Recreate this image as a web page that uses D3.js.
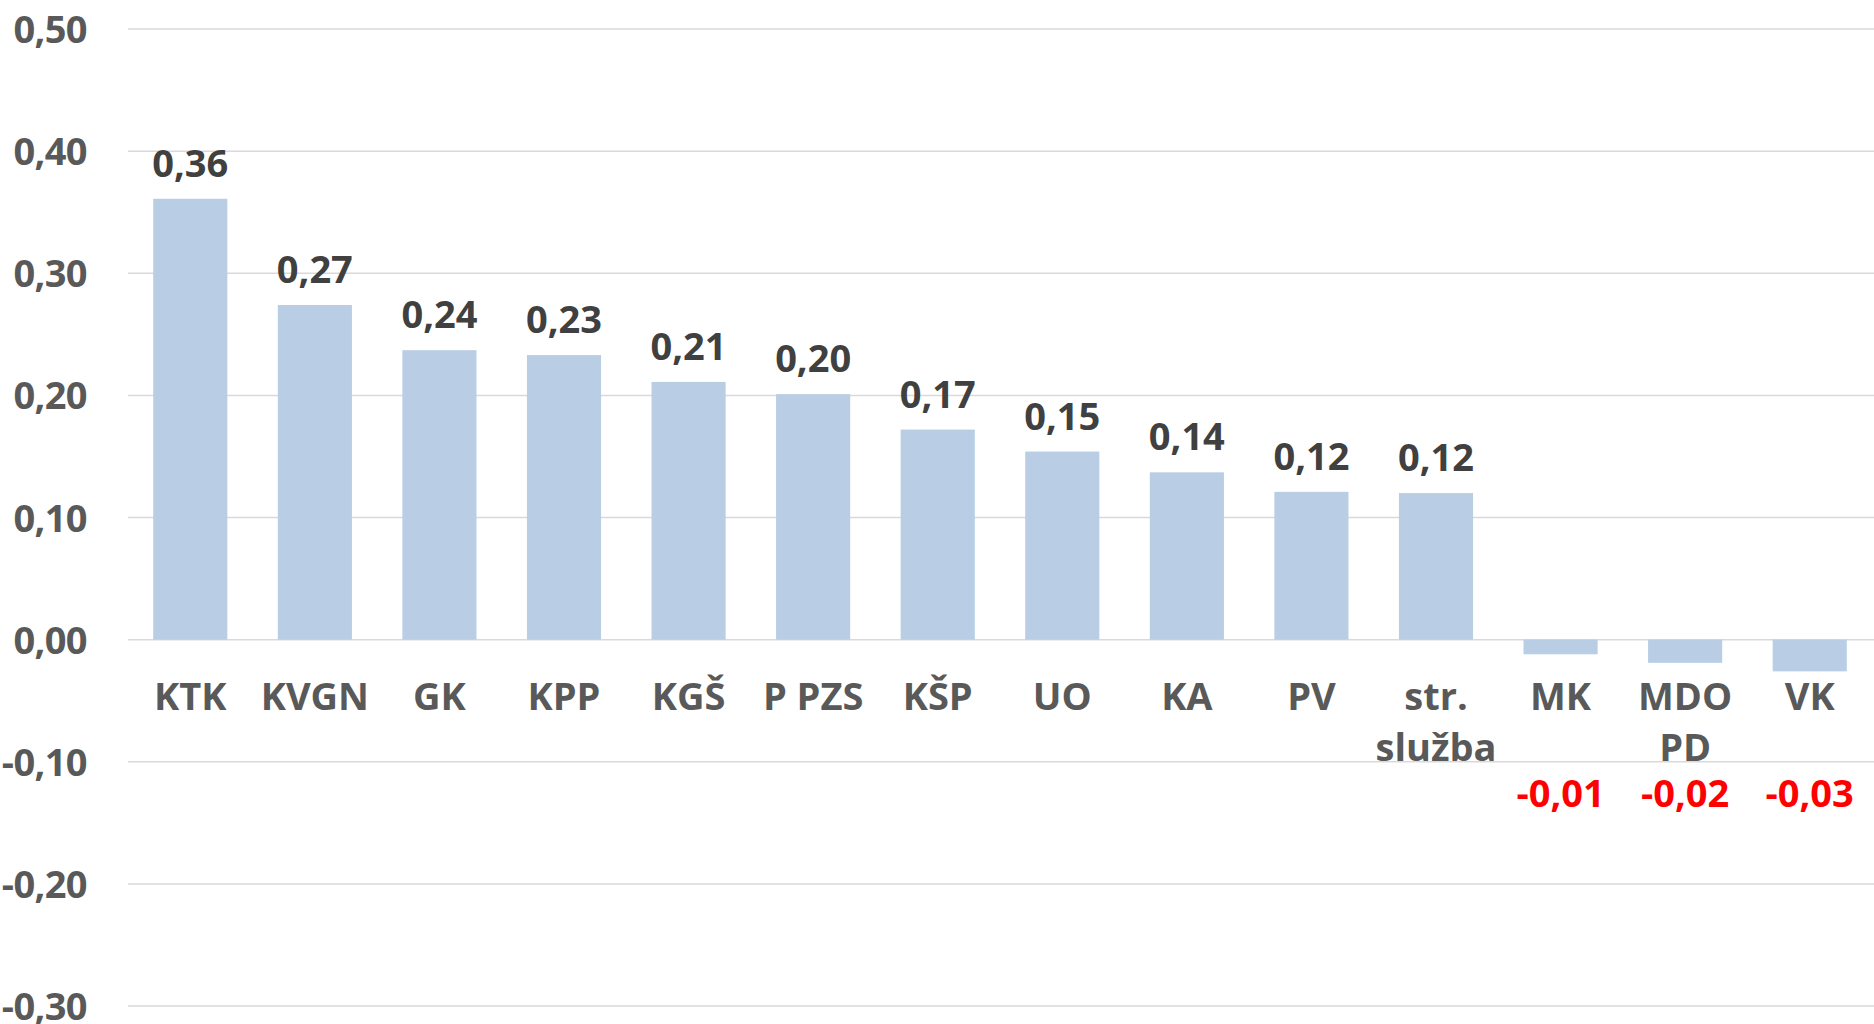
<!DOCTYPE html>
<html>
<head>
<meta charset="utf-8">
<script src="https://cdn.jsdelivr.net/npm/d3@7"></script>
<style>
  html, body { margin: 0; padding: 0; background: #ffffff; }
  svg { display: block; }
  text { font-family: "Open Sans", "Noto Sans", sans-serif; font-weight: 700; }
</style>
</head>
<body>
<svg id="chart" width="1874" height="1024"></svg>
<script>
// Category names (line breaks mark wrapped labels)
const categories = ["KTK", "KVGN", "GK", "KPP", "KGŠ", "P PZS", "KŠP", "UO", "KA", "PV",
                    "str.\nslužba", "MK", "MDO\nPD", "VK"];
// Indicator value per category
const values = [0.361, 0.274, 0.237, 0.233, 0.211, 0.201, 0.172, 0.154, 0.137, 0.121,
                0.120, -0.012, -0.019, -0.026];
// Y axis ticks
const yTicks = [0.5, 0.4, 0.3, 0.2, 0.1, 0.0, -0.1, -0.2, -0.3];

const W = 1874, H = 1024;
const margin = { left: 128, right: 2, top: 29, bottom: 18 };

const locale = d3.formatLocale({ decimal: ",", thousands: ".", grouping: [3], currency: ["", ""], minus: "-" });
const fmt = locale.format(".2f");

const svg = d3.select("#chart");

const x = d3.scaleBand()
  .domain(categories)
  .range([margin.left, W - margin.right])
  .padding(0);

const y = d3.scaleLinear()
  .domain([-0.3, 0.5])
  .range([H - margin.bottom, margin.top]);

const barW = x.bandwidth() * 0.595;

// Horizontal gridlines
svg.append("g")
  .selectAll("line")
  .data(yTicks)
  .join("line")
  .attr("x1", margin.left)
  .attr("x2", W)
  .attr("y1", d => y(d))
  .attr("y2", d => y(d))
  .attr("stroke", "#d9d9d9")
  .attr("stroke-width", 1.5);

// Y tick labels
svg.append("g")
  .selectAll("text")
  .data(yTicks)
  .join("text")
  .attr("x", 87)
  .attr("y", d => y(d) + 14)
  .attr("text-anchor", "end")
  .attr("font-size", 38)
  .attr("letter-spacing", -0.6)
  .attr("fill", "#595959")
  .text(d => fmt(d));

const rows = categories.map((c, i) => ({ cat: c, v: values[i] }));

// Bars
svg.append("g")
  .selectAll("rect")
  .data(rows)
  .join("rect")
  .attr("x", d => x(d.cat) + (x.bandwidth() - barW) / 2)
  .attr("width", barW)
  .attr("y", d => y(Math.max(0, d.v)))
  .attr("height", d => Math.abs(y(d.v) - y(0)))
  .attr("fill", "#b9cde5");

// Category labels beneath the zero line
const catG = svg.append("g");
rows.forEach(d => {
  const t = catG.append("text")
    .attr("x", x(d.cat) + x.bandwidth() / 2)
    .attr("y", y(0) + 70)
    .attr("text-anchor", "middle")
    .attr("font-size", 38)
    .attr("fill", "#595959");
  d.cat.split("\n").forEach((line, k) => {
    t.append("tspan")
      .attr("x", x(d.cat) + x.bandwidth() / 2)
      .attr("dy", k === 0 ? 0 : 51)
      .text(line);
  });
});

// Value labels: above positive bars, red row for negative ones
svg.append("g")
  .selectAll("text")
  .data(rows)
  .join("text")
  .attr("x", d => x(d.cat) + x.bandwidth() / 2)
  .attr("y", d => d.v >= 0 ? y(d.v) - 22 : y(0) + 167)
  .attr("text-anchor", "middle")
  .attr("font-size", 38)
  .attr("fill", d => d.v >= 0 ? "#404040" : "#ff0000")
  .text(d => fmt(d.v));
</script>
</body>
</html>
